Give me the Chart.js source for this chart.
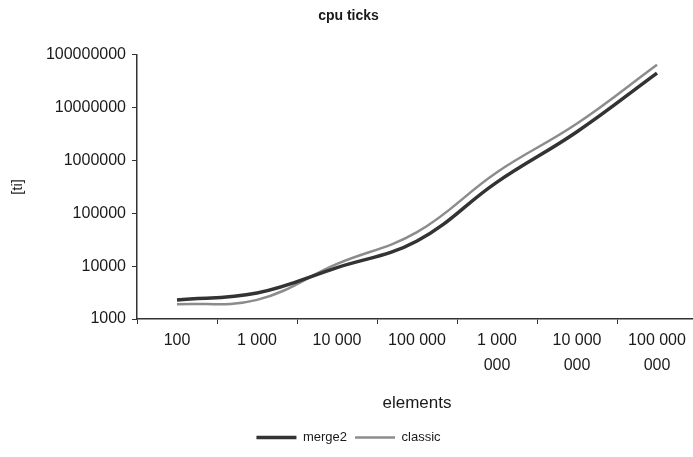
<!DOCTYPE html>
<html>
<head>
<meta charset="utf-8">
<script src="https://cdn.jsdelivr.net/npm/chart.js@4.4.0/dist/chart.umd.min.js"></script>
<style>
  html, body { margin: 0; padding: 0; background: #fff; overflow: hidden; }
  #wrap { width: 697px; height: 457px; }
</style>
</head>
<body>
<div id="wrap"><canvas id="cpu-chart"></canvas></div>
<script>
// Данные графика
const categories = ['100', '1 000', '10 000', '100 000', ['1 000', '000'], ['10 000', '000'], ['100 000', '000']];
const merge2 = [2300, 3100, 9400, 30000, 390000, 3500000, 45000000];
const classic = [1900, 2300, 11000, 44000, 600000, 5000000, 65000000];
const yTicks = [1000, 10000, 100000, 1000000, 10000000, 100000000];

const font = 'Liberation Sans, Arial, sans-serif';
const textColor = '#1a1a1a';

const ctx = document.getElementById('cpu-chart').getContext('2d');
const cpuChart = new Chart(ctx, {
    type: 'line',
    data: {
        labels: categories,
        datasets: [{
            label: 'merge2',
            data: merge2,
            borderColor: '#333333',
            backgroundColor: '#333333',
            borderWidth: 3.5,
            pointRadius: 0,
            tension: 0.4
        }, {
            label: 'classic',
            data: classic,
            borderColor: '#8c8c8c',
            backgroundColor: '#8c8c8c',
            borderWidth: 2.5,
            pointRadius: 0,
            tension: 0.4
        }]
    },
    options: {
        responsive: true,
        maintainAspectRatio: false,
        animation: false,
        layout: { padding: { top: 0, right: 0, bottom: 3, left: 0 } },
        plugins: {
            title: {
                display: true,
                text: 'cpu ticks',
                color: textColor,
                font: { family: font, size: 14, weight: 'bold' },
                padding: { top: 8, bottom: 30 }
            },
            legend: {
                position: 'bottom',
                labels: {
                    color: textColor,
                    font: { family: font, size: 13 },
                    usePointStyle: true,
                    pointStyle: 'line',
                    pointStyleWidth: 40,
                    boxHeight: 4,
                    padding: 8
                }
            },
            tooltip: { enabled: false }
        },
        scales: {
            x: {
                offset: true,
                grid: {
                    offset: true,
                    drawOnChartArea: false,
                    drawTicks: true,
                    tickLength: 5,
                    color: '#333'
                },
                border: { color: '#333', width: 1.5 },
                ticks: {
                    color: textColor,
                    font: { family: font, size: 16, lineHeight: 1.56 },
                    maxRotation: 0,
                    autoSkip: false,
                    padding: 4
                },
                title: {
                    display: true,
                    text: 'elements',
                    color: textColor,
                    font: { family: font, size: 17 },
                    padding: { top: 10, bottom: 9 }
                },
                afterFit: (scale) => { scale.height = 104; }
            },
            y: {
                type: 'logarithmic',
                min: 1000,
                max: 100000000,
                afterBuildTicks: (axis) => { axis.ticks = yTicks.map(v => ({ value: v })); },
                grid: {
                    drawOnChartArea: false,
                    drawTicks: true,
                    tickLength: 5,
                    color: '#333'
                },
                border: { color: '#333', width: 1.5 },
                ticks: {
                    color: textColor,
                    font: { family: font, size: 16 },
                    padding: 6,
                    callback: (v) => String(v)
                },
                title: {
                    display: true,
                    text: '[ti]',
                    color: textColor,
                    font: { family: font, size: 15 },
                    padding: { top: 9, bottom: 0 }
                },
                afterFit: (scale) => { scale.width = 137; }
            }
        }
    }
});
</script>
</body>
</html>
